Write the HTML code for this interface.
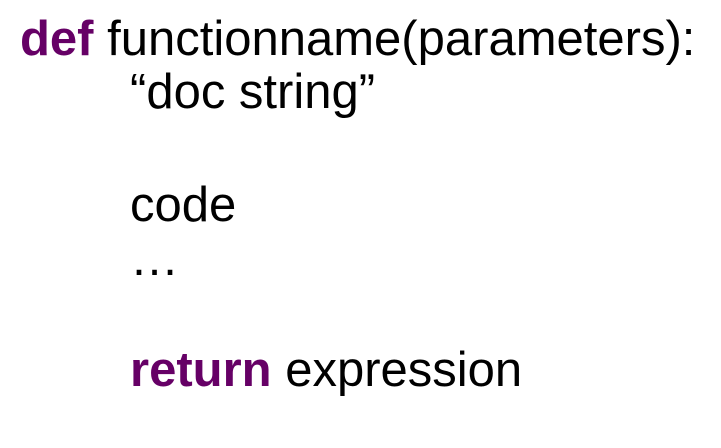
<!DOCTYPE html>
<html><head><meta charset="utf-8"><style>
html,body{margin:0;padding:0;width:721px;height:448px;background:#fff;overflow:hidden}
.l{position:absolute;font-family:"Liberation Sans",sans-serif;font-size:49px;line-height:49px;color:#000;white-space:nowrap}
b{color:#660066}
</style></head><body>
<div class="l" style="left:20px;top:15px"><b>def</b> functionname(parameters):</div>
<div class="l" style="left:130px;top:68px">“doc string”</div>
<div class="l" style="left:130px;top:181px">code</div>
<div class="l" style="left:130px;top:235px">…</div>
<div class="l" style="left:130px;top:346px"><b>return</b> expression</div>
</body></html>
